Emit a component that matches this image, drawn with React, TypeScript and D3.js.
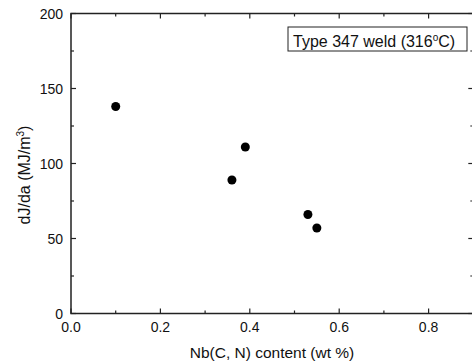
import React, { useEffect, useRef } from 'react';
import * as d3 from 'd3';

// Nb(C,N) content (wt %) vs dJ/da (MJ/m^3), Type 347 weld at 316 C
const nbContent = [0.1, 0.36, 0.39, 0.53, 0.55];
const dJda = [138, 89, 111, 66, 57];
const xTicks = [0, 0.2, 0.4, 0.6, 0.8];
const yTicks = [0, 50, 100, 150, 200];

const App: React.FC = () => {
  const ref = useRef<SVGSVGElement>(null);

  useEffect(() => {
    if (!ref.current) return;
    const svg = d3.select(ref.current);
    svg.selectAll('*').remove();

    const width = 472;
    const height = 363;
    const margin = { left: 71, top: 13.5, right: 0, bottom: 49.5 };
    const innerW = 402.3;
    const innerH = height - margin.top - margin.bottom;

    const x = d3.scaleLinear().domain([0, 0.9]).range([0, innerW]);
    const y = d3.scaleLinear().domain([0, 200]).range([innerH, 0]);

    svg.attr('width', width).attr('height', height);
    const g = svg.append('g').attr('transform', `translate(${margin.left},${margin.top})`);

    const font = 'Arial, "Liberation Sans", sans-serif';
    const minorX = d3.range(0, 0.91, 0.1);
    const minorY = d3.range(0, 201, 25);

    // frame
    g.append('rect')
      .attr('x', 0).attr('y', 0)
      .attr('width', innerW).attr('height', innerH)
      .attr('fill', 'none')
      .attr('stroke', '#222')
      .attr('stroke-width', 1.5);

    // ticks (inward)
    const tickG = g.append('g').attr('stroke', '#222').attr('stroke-width', 1.2);
    minorX.forEach((v, i) => {
      const len = i % 2 === 0 ? 5 : 3;
      tickG.append('line').attr('x1', x(v)).attr('x2', x(v)).attr('y1', innerH).attr('y2', innerH - len);
      tickG.append('line').attr('x1', x(v)).attr('x2', x(v)).attr('y1', 0).attr('y2', len);
    });
    minorY.forEach((v, i) => {
      const len = i % 2 === 0 ? 5 : 3;
      tickG.append('line').attr('x1', 0).attr('x2', len).attr('y1', y(v)).attr('y2', y(v));
      tickG.append('line').attr('x1', innerW).attr('x2', innerW - len).attr('y1', y(v)).attr('y2', y(v));
    });

    // tick labels
    g.selectAll('.xt')
      .data(xTicks)
      .enter()
      .append('text')
      .attr('x', d => x(d))
      .attr('y', innerH + 18.5)
      .attr('text-anchor', 'middle')
      .attr('font-family', font)
      .attr('font-size', '14px')
      .attr('fill', '#111')
      .text(d => d.toFixed(1));

    g.selectAll('.yt')
      .data(yTicks)
      .enter()
      .append('text')
      .attr('x', -8)
      .attr('y', d => y(d))
      .attr('dy', '0.36em')
      .attr('text-anchor', 'end')
      .attr('font-family', font)
      .attr('font-size', '14px')
      .attr('fill', '#111')
      .text(d => String(d));

    // points
    g.selectAll('.dot')
      .data(nbContent.map((v, i) => ({ x: v, y: dJda[i] })))
      .enter()
      .append('circle')
      .attr('cx', d => x(d.x))
      .attr('cy', d => y(d.y))
      .attr('r', 4.5)
      .attr('fill', '#000');

    // legend box
    svg.append('rect')
      .attr('x', 288).attr('y', 27)
      .attr('width', 179).attr('height', 24)
      .attr('fill', 'white')
      .attr('stroke', '#222')
      .attr('stroke-width', 1);
    const lt = svg.append('text')
      .attr('x', 293)
      .attr('y', 46.5)
      .attr('font-family', font)
      .attr('font-size', '16px')
      .attr('fill', '#111');
    lt.append('tspan').text('Type 347 weld (316');
    lt.append('tspan').attr('font-size', '10px').attr('dy', '-6').text('o');
    lt.append('tspan').attr('dy', '6').text('C)');

    // x label
    svg.append('text')
      .attr('x', 272)
      .attr('y', 358)
      .attr('text-anchor', 'middle')
      .attr('font-family', font)
      .attr('font-size', '15.5px')
      .attr('fill', '#111')
      .text('Nb(C, N) content (wt %)');

    // y label
    const yl = svg.append('text')
      .attr('transform', 'translate(30,175) rotate(-90)')
      .attr('text-anchor', 'middle')
      .attr('font-family', font)
      .attr('font-size', '16px')
      .attr('fill', '#111');
    yl.append('tspan').text('dJ/da (MJ/m');
    yl.append('tspan').attr('font-size', '10px').attr('dy', '-6').text('3');
    yl.append('tspan').attr('dy', '6').text(')');
  }, []);

  return (
    <svg
      ref={ref}
      style={{ position: 'absolute', left: 0, top: 0, background: 'white' }}
    />
  );
};

export default App;
